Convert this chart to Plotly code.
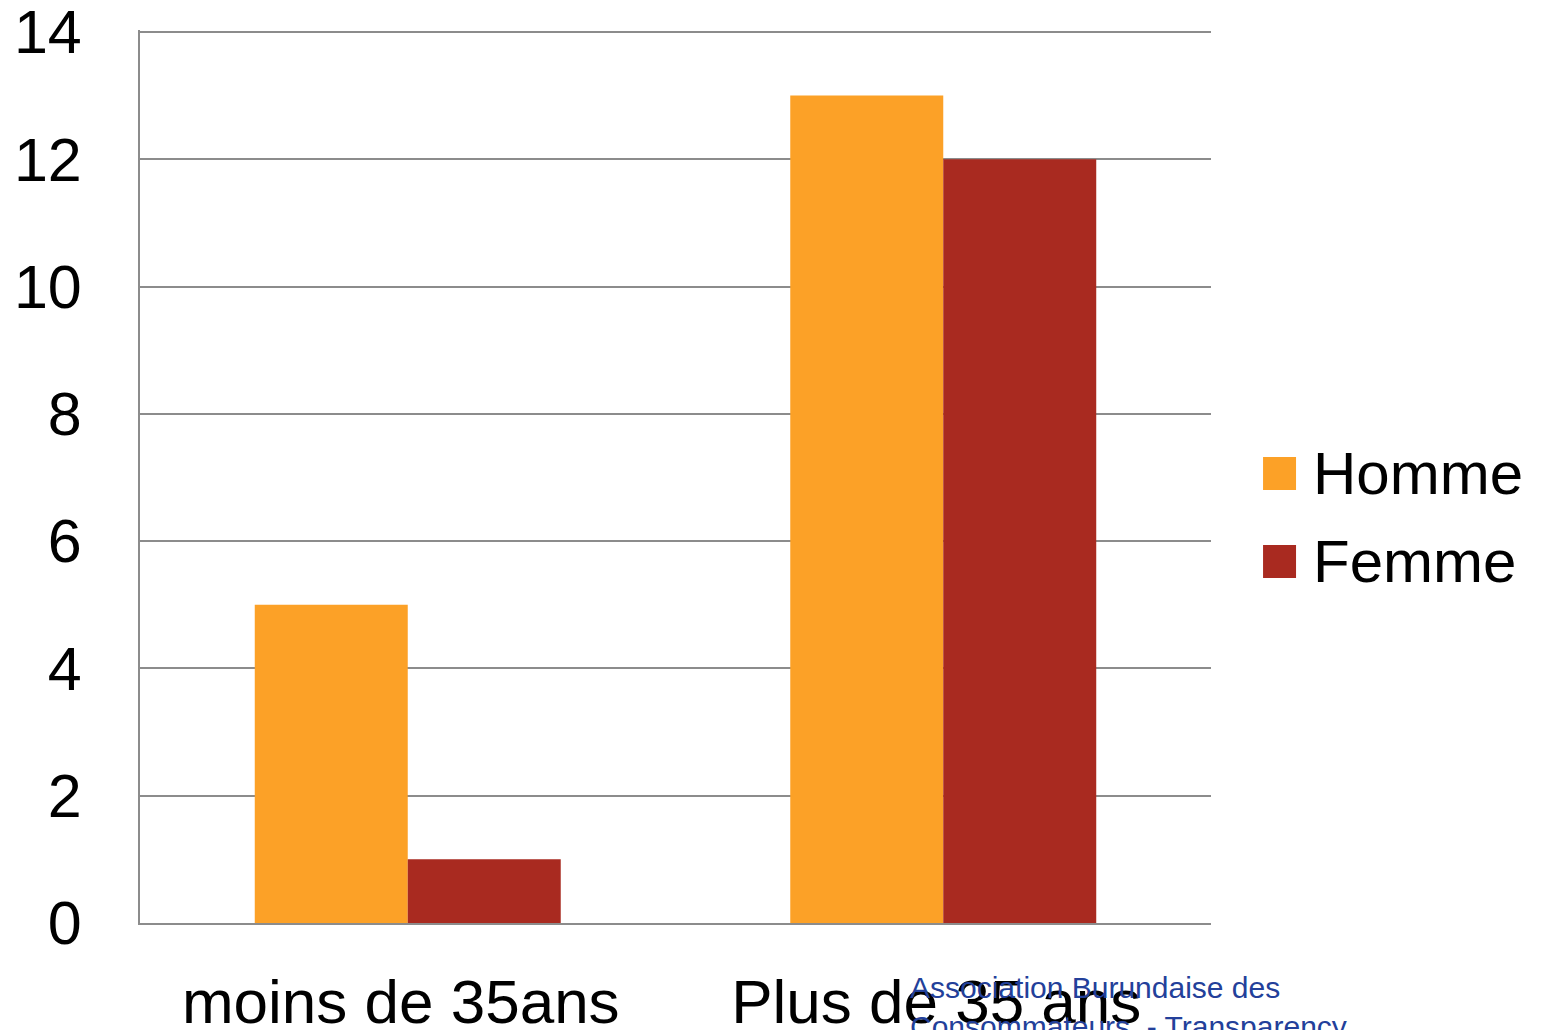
import plotly.graph_objects as go

categories = ["moins de 35ans", "Plus de 35 ans"]
homme = [5, 13]
femme = [1, 12]
series_names = ["Homme", "Femme"]
colors = ["#FCA127", "#A92A20"]
y_ticks = [0, 2, 4, 6, 8, 10, 12, 14]
watermark = "Association Burundaise des<br>Consommateurs  - Transparency"

fig = go.Figure()
for name, values, color in zip(series_names, [homme, femme], colors):
    fig.add_trace(go.Bar(
        x=categories,
        y=values,
        name=name,
        marker=dict(color=color, line=dict(width=0)),
        showlegend=False,
    ))

# legende dessinee a la main (carres plus grands que ceux de plotly)
legend_y = [0.5034, 0.4048]
for name, color, ly in zip(series_names, colors, legend_y):
    fig.add_shape(
        type="rect", xref="paper", yref="paper",
        x0=1.0486, x1=1.0794, y0=ly - 0.0185, y1=ly + 0.0185,
        fillcolor=color, line=dict(width=0),
    )
    fig.add_annotation(
        text=name, xref="paper", yref="paper",
        x=1.093, y=ly, xanchor="left", yanchor="middle",
        showarrow=False, font=dict(size=60, color="#000000"),
    )

fig.add_annotation(
    text=watermark, xref="paper", yref="paper",
    x=0.717, y=-0.051, xanchor="left", yanchor="top", align="left",
    showarrow=False, font=dict(size=30, color="#23409A", family="Liberation Sans"),
)

# la page ajoute une marge de 8 px autour du graphique
fig.update_layout(
    width=1533,
    height=1022,
    margin=dict(l=132, r=330, t=22, b=107),
    plot_bgcolor="#ffffff",
    paper_bgcolor="#ffffff",
    font=dict(family="Liberation Sans, Arial, sans-serif", size=60, color="#000000"),
    barmode="group",
    bargap=0.4286,
    bargroupgap=0,
)

fig.update_xaxes(
    automargin=False,
    showgrid=False,
    showline=True,
    linecolor="#8c8c8c",
    linewidth=2,
    ticks="",
    ticklabelstandoff=24,
    ticklabelshift=-7,
    tickfont=dict(size=62),
)

fig.update_yaxes(
    automargin=False,
    range=[0, 14.03],
    tickvals=y_ticks,
    showgrid=True,
    gridcolor="#8c8c8c",
    gridwidth=1.5,
    showline=True,
    linecolor="#8c8c8c",
    linewidth=2,
    zeroline=False,
    ticks="",
    ticklabelstandoff=44,
    ticklabeloverflow="allow",
    tickfont=dict(size=61),
)

fig.write_html("out.html")
